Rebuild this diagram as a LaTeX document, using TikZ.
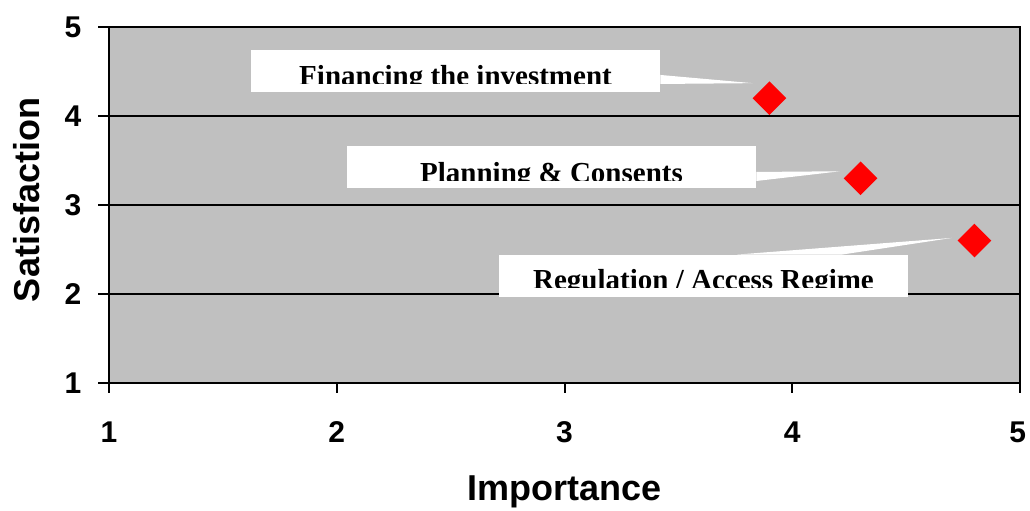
\documentclass[tikz,border=0pt]{standalone}
\usepackage{fontspec}
\setmainfont{Liberation Serif}
\setsansfont{Liberation Sans}
\usepackage{tikz}
\usetikzlibrary{positioning}
\usetikzlibrary{shapes.geometric}

\definecolor{plotgray}{HTML}{C0C0C0}

\tikzset{
  ticklabel/.style={font=\sffamily\bfseries\fontsize{15}{18}\selectfont},
  axistitle/.style={font=\sffamily\bfseries\fontsize{18}{21}\selectfont},
  callout/.style={fill=white,inner sep=0pt,minimum width=204.5pt,minimum height=21pt},
  callouttext/.style={anchor=base,inner sep=0pt,font=\bfseries\fontsize{14.5}{17}\selectfont},
  point/.style={diamond,fill=red,inner sep=0pt,minimum width=17pt,minimum height=17pt},
  axisline/.style={line width=1pt}
}

\begin{document}
\begin{tikzpicture}[x=113.875pt,y=44.5pt]
  \useasboundingbox (0.5214,-0.438) rectangle (5.0439,5.303);

  \fill[plotgray] (1,1) rectangle (5,5);
  \draw[axisline] (1,2) -- (5,2);
  \draw[axisline] (1,3) -- (5,3);
  \draw[axisline] (1,4) -- (5,4);

  \node at (2.5214,4.5056) [callout] (fin) {};
  \node at (2.9429,3.4213) [callout] (plan) {};
  \node at (3.6103,2.2022) [callout] (reg) {};

  \node at (3.9,4.2) [point] (finpt) {};
  \node at (4.3,3.3) [point] (planpt) {};
  \node at (4.8,2.6) [point] (regpt) {};

  \coordinate (fintip) at ([xshift=0.25pt,yshift=7.5pt]finpt.west);
  \coordinate (plantip) at ([xshift=-1.5pt,yshift=3.5pt]planpt.west);
  \coordinate (regtip) at ([xshift=-2.75pt,yshift=1.3pt]regpt.west);

  \fill[white] ([yshift=-2pt]fin.east) -- (fintip) -- ([yshift=-6.5pt]fin.east) -- cycle;
  \fill[white] ([yshift=-2.25pt]plan.east) -- (plantip) -- ([yshift=-6.75pt]plan.east) -- cycle;
  \fill[white] ([xshift=16.75pt]reg.north) -- (regtip) -- ([xshift=69.25pt]reg.north) -- cycle;

  \begin{scope}
    \clip (fin.north west) rectangle ([yshift=-17pt]fin.north east);
    \node at ([yshift=-18pt]fin.north) [callouttext] (finlabel) {Financing the investment};
  \end{scope}
  \begin{scope}
    \clip (plan.north west) rectangle ([yshift=-17pt]plan.north east);
    \node at ([yshift=-18pt]plan.north) [callouttext] (planlabel) {Planning \& Consents};
  \end{scope}
  \begin{scope}
    \clip (reg.north west) rectangle ([yshift=-16.5pt]reg.north east);
    \node at ([yshift=-17.5pt]reg.north) [callouttext] (reglabel) {Regulation / Access Regime};
  \end{scope}

  \draw[axisline] (1,1) rectangle (5,5);
  \draw[axisline] (1,1) -- ++(-5.5pt,0);
  \draw[axisline] (1,2) -- ++(-5.5pt,0);
  \draw[axisline] (1,3) -- ++(-5.5pt,0);
  \draw[axisline] (1,4) -- ++(-5.5pt,0);
  \draw[axisline] (1,5) -- ++(-5.5pt,0);
  \draw[axisline] (1,1) -- ++(0,-5pt);
  \draw[axisline] (2,1) -- ++(0,-5pt);
  \draw[axisline] (3,1) -- ++(0,-5pt);
  \draw[axisline] (4,1) -- ++(0,-5pt);
  \draw[axisline] (5,1) -- ++(0,-5pt);

  \node at (0.842,1) [ticklabel] (y1) {1};
  \node at (0.842,2) [ticklabel] (y2) {2};
  \node at (0.842,3) [ticklabel] (y3) {3};
  \node at (0.842,4) [ticklabel] (y4) {4};
  \node at (0.842,5) [ticklabel] (y5) {5};

  \node at (1,0.449) [ticklabel] (x1) {1};
  \node at (2,0.449) [ticklabel] (x2) {2};
  \node at (3,0.449) [ticklabel] (x3) {3};
  \node at (4,0.449) [ticklabel] (x4) {4};
  \node at (4.99,0.449) [ticklabel] (x5) {5};

  \node at (3.002,-0.225) [axistitle] (xtitle) {Importance};
  \node at (0.64,3.056) [axistitle,rotate=90] (ytitle) {Satisfaction};
\end{tikzpicture}
\end{document}
